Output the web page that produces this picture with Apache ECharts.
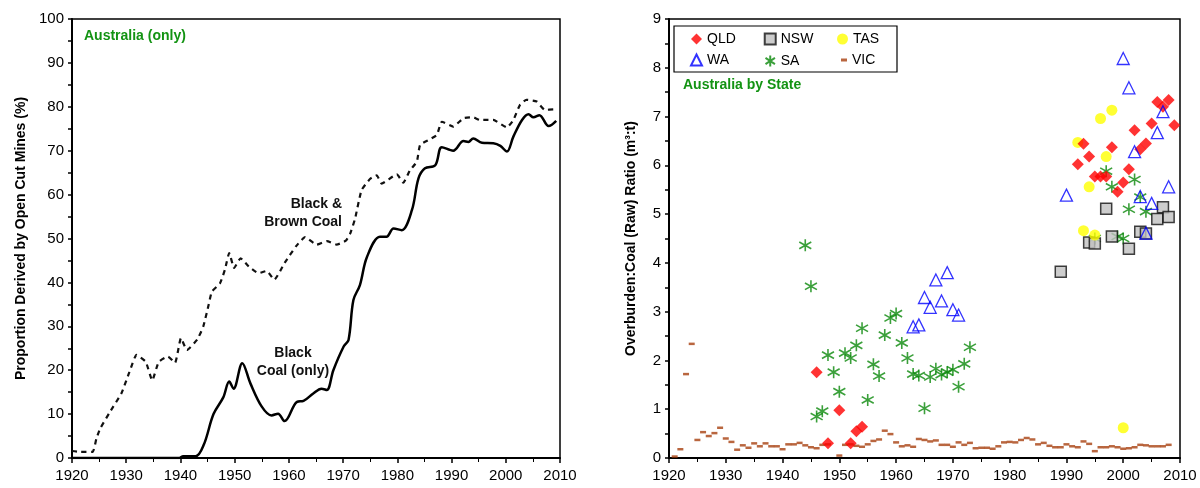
<!DOCTYPE html>
<html>
<head>
<meta charset="utf-8">
<script src="https://cdn.jsdelivr.net/npm/echarts@6/dist/echarts.min.js"></script>
<style>html,body{margin:0;padding:0;background:#fff;}#c{width:1200px;height:488px;}</style>
</head>
<body>
<div id="c"></div>
<script>
// ---- Left panel: proportion from open cut mines (%) ----
const bbYears = [1920,1921.5,1923.8,1924.5,1925.2,1927,1929.1,1930.6,1931.9,1933.6,1934.8,1936,1937.7,1939,1940.1,1941.2,1943.1,1944.2,1945.2,1945.8,1947.3,1948.2,1949,1949.9,1951.1,1952.6,1954.4,1955.9,1957.3,1959.2,1961.3,1963,1965.1,1967,1968.8,1970.5,1971.3,1972.2,1973.4,1975,1976.2,1977.1,1979.9,1981.1,1982.3,1983.6,1984.2,1986,1987.3,1988.2,1990.3,1992.2,1994,1995.2,1997.7,2000.2,2001.4,2002.6,2003.8,2005.7,2007.2,2008.8];
const bbVals  = [1.6,1.4,1.4,4.4,6.7,10.5,14.7,19.6,23.5,21.9,17.7,21.9,23.1,21.7,27.3,24.6,27,29.9,34.9,37.9,39.8,42.9,46.7,43.3,45.5,43.6,42.1,42.6,40.6,44.4,48.2,50.3,48.6,49.4,48.6,49.5,51.1,54.5,61,63.6,64.4,62.5,64.6,62.7,65.5,67.5,71.3,72.6,73.6,76.6,75.5,77.4,77.6,77,77,75.3,77,80.4,81.6,81.2,79.3,79.4];
const bcYears = [1920,1939.8,1940.5,1942.8,1944.3,1946.1,1947.9,1949,1949.8,1951.4,1952.9,1955,1956.8,1958,1959.2,1961.5,1962.7,1964.5,1966,1967,1968.2,1970.1,1971,1971.9,1973.1,1974.4,1976.8,1978,1979.3,1980.8,1982.7,1983.9,1985.1,1987,1988.2,1990.3,1992.2,1993.1,1994,1995.6,1997.7,1999,2000.2,2001.4,2003,2004.2,2005.1,2006.2,2007.9,2009.3];
const bcVals  = [0,0,0.4,0.4,3.0,10,13.8,17.4,15.8,21.6,17,11.7,9.7,10.1,8.4,12.8,13,14.7,15.8,15.5,20,25.4,26.9,36,39.4,45.8,50.4,50.4,52.3,51.9,56.5,63.7,66,66.7,70.8,70,72.2,72,72.8,71.8,71.7,71.1,69.8,73.2,77,78.3,77.6,78.1,75.6,76.8];

// ---- Right panel: overburden:coal ratio by state ----
const qldYears = [1946,1948,1950,1952,1953,1954,1992,1993,1994,1995,1996,1997,1998,1999,2000,2001,2002,2003,2004,2005,2006,2007,2008,2009];
const qldVals  = [1.76,0.30,0.98,0.30,0.55,0.64,6.02,6.44,6.18,5.77,5.77,5.77,6.37,5.46,5.65,5.92,6.72,6.33,6.45,6.86,7.30,7.20,7.34,6.82];
const nswYears = [1989,1994,1995,1997,1998,2001,2003,2004,2006,2007,2008];
const nswVals  = [3.82,4.42,4.40,5.11,4.54,4.29,4.64,4.60,4.90,5.14,4.94];
const tasYears = [1992,1993,1994,1995,1996,1997,1998,2000];
const tasVals  = [6.47,4.66,5.56,4.57,6.96,6.18,7.13,0.62];
const waYears  = [1963,1964,1965,1966,1967,1968,1969,1970,1971,1990,2000,2001,2002,2003,2004,2005,2006,2007,2008];
const waVals   = [2.69,2.73,3.29,3.09,3.65,3.22,3.80,3.04,2.93,5.39,8.19,7.59,6.28,5.36,4.61,5.22,6.67,7.10,5.56];
const saYears  = [1944,1945,1946,1947,1948,1949,1950,1951,1952,1953,1954,1955,1956,1957,1958,1959,1960,1961,1962,1963,1964,1965,1966,1967,1968,1969,1970,1971,1972,1973,1995,1997,1998,1999,2000,2001,2002,2003,2004];
const saVals   = [4.36,3.52,0.85,0.96,2.11,1.76,1.36,2.15,2.05,2.31,2.66,1.19,1.92,1.68,2.52,2.87,2.96,2.36,2.05,1.72,1.69,1.02,1.66,1.83,1.71,1.76,1.81,1.46,1.93,2.27,4.50,5.88,5.56,4.54,4.50,5.10,5.71,5.35,5.05];
const vicYears = [1921,1922,1923,1924,1925,1926,1927,1928,1929,1930,1931,1932,1933,1934,1935,1936,1937,1938,1939,1940,1941,1942,1943,1944,1945,1946,1947,1948,1950,1951,1952,1953,1954,1955,1956,1957,1958,1959,1960,1961,1962,1963,1964,1965,1966,1967,1968,1969,1970,1971,1972,1973,1974,1975,1976,1977,1978,1979,1980,1981,1982,1983,1984,1985,1986,1987,1988,1989,1990,1991,1992,1993,1994,1995,1996,1997,1998,1999,2000,2001,2002,2003,2004,2005,2006,2007,2008];
const vicVals  = [0.03,0.18,1.72,2.34,0.37,0.53,0.45,0.51,0.62,0.40,0.33,0.17,0.26,0.21,0.30,0.24,0.30,0.24,0.24,0.18,0.28,0.28,0.31,0.26,0.22,0.20,0.27,0.28,0.05,0.27,0.28,0.25,0.23,0.28,0.35,0.38,0.56,0.49,0.32,0.24,0.26,0.23,0.39,0.37,0.34,0.36,0.27,0.27,0.23,0.32,0.27,0.31,0.20,0.21,0.21,0.19,0.24,0.32,0.33,0.32,0.37,0.41,0.38,0.28,0.31,0.25,0.22,0.22,0.28,0.24,0.22,0.34,0.29,0.14,0.22,0.22,0.24,0.22,0.19,0.20,0.22,0.27,0.26,0.24,0.24,0.24,0.27];

const leftTicks = [0,10,20,30,40,50,60,70,80,90,100];
const rightTicks = [0,1,2,3,4,5,6,7,8,9];
const yearTicks = [1920,1930,1940,1950,1960,1970,1980,1990,2000,2010];

const zip = (xs, ys) => xs.map((x, i) => [x, ys[i]]);
const FONT = '"Liberation Sans", Arial, sans-serif';
const GREEN = '#139313';
const asterisk = 'path://M5,0L5,10M0.7,2.2L9.3,7.8M0.7,7.8L9.3,2.2';

function xAxisCfg(gi) {
  return {
    type: 'value', gridIndex: gi, min: 1920, max: 2010, interval: 10,
    axisLine: { onZero: false, lineStyle: { color: '#000', width: 2 } },
    axisTick: { show: true, length: 5, lineStyle: { color: '#000', width: 1.5 } },
    minorTick: { show: true, splitNumber: 2, length: 4, lineStyle: { color: '#000', width: 1 } },
    splitLine: { show: false },
    axisLabel: { color: '#000', fontSize: 15, fontFamily: FONT, margin: 10,
      formatter: v => yearTicks.indexOf(v) >= 0 ? String(v) : '' }
  };
}
function yAxisCfg(gi, max, name, gap) {
  return {
    type: 'value', gridIndex: gi, min: 0, max: max, interval: max === 100 ? 10 : 1,
    name: name, nameLocation: 'middle', nameGap: gap,
    nameTextStyle: { color: '#000', fontSize: 14, fontWeight: 'bold', fontFamily: FONT },
    axisLine: { show: true, lineStyle: { color: '#000', width: 2 } },
    axisTick: { show: true, length: 4, lineStyle: { color: '#000', width: 1.5 } },
    minorTick: { show: true, splitNumber: 2, length: 4, lineStyle: { color: '#000', width: 1.5 } },
    splitLine: { show: false },
    axisLabel: { color: '#000', fontSize: 15, fontFamily: FONT, margin: 8,
      formatter: v => (max === 100 ? leftTicks : rightTicks).indexOf(v) >= 0 ? String(v) : '' }
  };
}

const legendBase = {
  orient: 'vertical', itemWidth: 11, itemHeight: 11, itemGap: 7,
  textStyle: { color: '#000', fontSize: 14, fontFamily: FONT, lineHeight: 14 },
  selectedMode: false
};

const chart = echarts.init(document.getElementById('c'), null, { renderer: 'canvas' });
chart.setOption({
  animation: false,
  backgroundColor: '#fff',
  grid: [
    { left: 72, right: 640, top: 19, bottom: 30, show: true, borderColor: '#000', borderWidth: 1.5 },
    { left: 669, right: 20, top: 19, bottom: 30, show: true, borderColor: '#000', borderWidth: 1.5 }
  ],
  xAxis: [xAxisCfg(0), xAxisCfg(1)],
  yAxis: [
    yAxisCfg(0, 100, 'Proportion Derived by Open Cut Mines (%)', 44),
    yAxisCfg(1, 9, 'Overburden:Coal (Raw) Ratio (m³:t)', 31)
  ],
  legend: [
    Object.assign({}, legendBase, { left: 685, top: 27, data: ['QLD', 'WA'] }),
    Object.assign({}, legendBase, { left: 758, top: 27, data: ['NSW', 'SA'] }),
    Object.assign({}, legendBase, { left: 832, top: 27, data: ['TAS'] }),
    Object.assign({}, legendBase, { left: 836, top: 48, itemWidth: 6, itemHeight: 3, data: ['VIC'] })
  ],
  graphic: [
    { type: 'rect', shape: { x: 674, y: 26, width: 223, height: 46 }, style: { fill: 'none', stroke: '#000', lineWidth: 1.2 }, z: 10 },
    { type: 'text', x: 84, y: 29, style: { text: 'Australia (only)', fill: GREEN, font: 'bold 14px ' + FONT } },
    { type: 'text', x: 683, y: 78, style: { text: 'Australia by State', fill: GREEN, font: 'bold 14px ' + FONT } },
    { type: 'text', x: 342, y: 195, style: { text: 'Black &\nBrown Coal', fill: '#111', font: 'bold 14px ' + FONT, align: 'right', lineHeight: 18 } },
    { type: 'text', x: 293, y: 344, style: { text: 'Black\nCoal (only)', fill: '#111', font: 'bold 14px ' + FONT, align: 'center', lineHeight: 18 } }
  ],
  series: [
    { name: 'Black & Brown Coal', type: 'line', xAxisIndex: 0, yAxisIndex: 0, data: zip(bbYears, bbVals),
      showSymbol: false, smooth: 0.15, lineStyle: { color: '#111', width: 2.2, type: [5, 4.5] } },
    { name: 'Black Coal (only)', type: 'line', xAxisIndex: 0, yAxisIndex: 0, data: zip(bcYears, bcVals),
      showSymbol: false, smooth: 0.35, lineStyle: { color: '#000', width: 2.5 } },
    { name: 'VIC', type: 'scatter', xAxisIndex: 1, yAxisIndex: 1, data: zip(vicYears, vicVals),
      symbol: 'rect', symbolSize: [6, 2.5], itemStyle: { color: '#a8400f' } },
    { name: 'SA', type: 'scatter', xAxisIndex: 1, yAxisIndex: 1, data: zip(saYears, saVals),
      symbol: asterisk, symbolSize: 12, itemStyle: { color: 'none', borderColor: '#0a880a', borderWidth: 1.6 } },
    { name: 'NSW', type: 'scatter', xAxisIndex: 1, yAxisIndex: 1, data: zip(nswYears, nswVals),
      symbol: 'rect', symbolSize: 11, itemStyle: { color: '#c0c0c0', borderColor: '#111', borderWidth: 1.5 } },
    { name: 'TAS', type: 'scatter', xAxisIndex: 1, yAxisIndex: 1, data: zip(tasYears, tasVals),
      symbol: 'circle', symbolSize: 11, itemStyle: { color: '#ffff00' } },
    { name: 'QLD', type: 'scatter', xAxisIndex: 1, yAxisIndex: 1, data: zip(qldYears, qldVals),
      symbol: 'diamond', symbolSize: 12, itemStyle: { color: '#ff0000' } },
    { name: 'WA', type: 'scatter', xAxisIndex: 1, yAxisIndex: 1, data: zip(waYears, waVals),
      symbol: 'triangle', symbolSize: 12, itemStyle: { color: 'rgba(255,255,255,0)', borderColor: '#0000ff', borderWidth: 1.3 } }
  ]
});
</script>
</body>
</html>
